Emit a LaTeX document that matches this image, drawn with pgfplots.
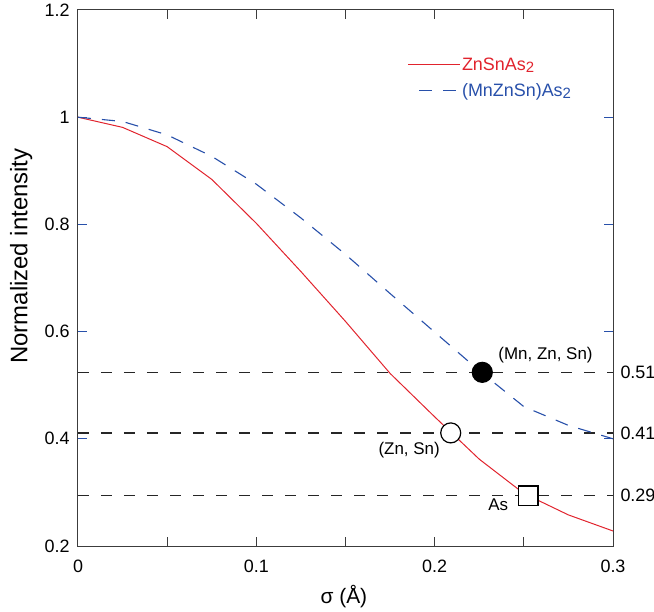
\documentclass[border=0pt]{standalone}
\usepackage{fontspec}
\setmainfont{Liberation Sans}
\usepackage{pgfplots}
\pgfplotsset{compat=1.18}
\definecolor{myred}{RGB}{225,35,45}
\definecolor{myblue}{RGB}{40,80,170}
\definecolor{axgray}{RGB}{60,60,60}

\pgfplotsset{
  redleg/.style={legend image code/.code={\draw[myred, line width=1bp] (0bp,0bp) -- (52bp,0bp);}},
  blueleg/.style={legend image code/.code={\draw[myblue, line width=1.1bp, dash pattern=on 13bp off 11bp] (11bp,0bp) -- (48bp,0bp);}},
}

\pgfplotstableread{
x     y
0     1.000
0.025 0.981
0.05  0.945
0.075 0.884
0.1   0.802
0.125 0.712
0.15  0.619
0.175 0.522
0.2   0.441
0.225 0.362
0.25  0.298
0.275 0.258
0.3   0.228
}\redtab

\pgfplotstableread{
x     y
0     1.000
0.025 0.992
0.05  0.967
0.075 0.927
0.1   0.875
0.125 0.812
0.15  0.744
0.175 0.671
0.2   0.599
0.225 0.527
0.25  0.460
0.275 0.425
0.3   0.400
}\bluetab

\begin{document}
\begin{tikzpicture}
\begin{axis}[
  name=ax, clip=false,
  scale only axis, width=535bp, height=536bp,
  xmin=0, xmax=0.3, ymin=0.2, ymax=1.2,
  xtick={0,0.1,0.2,0.3}, minor xtick={0.05,0.15,0.25},
  ytick={0.2,0.4,0.6,0.8,1.0,1.2},
  tick align=inside, major tick length=9bp, minor tick length=9bp,
  axis line style={axgray, line width=1bp},
  x tick style={axgray, line width=1bp},
  y tick style={myblue, line width=1bp},
  /pgf/number format/assume math mode=true,
  ticklabel style={font=\fontsize{18}{20}\selectfont},
  yticklabel style={xshift=-5bp},
  xticklabel style={yshift=-10bp},
  xlabel={σ (Å)},
  ylabel={Normalized intensity},
  xlabel style={font=\fontsize{21}{24}\selectfont, at={(rel axis cs:0.497,-0.0935)}, anchor=center},
  ylabel style={font=\fontsize{24}{27}\selectfont, at={(rel axis cs:-0.106,0.541)}, anchor=center},
  legend style={draw=none, fill=none, font=\fontsize{18}{20}\selectfont,
    at={(rel axis cs:0.61,0.918)}, anchor=north west, row sep=9bp,
    nodes={inner sep=1.5bp}},
  legend cell align=left,
]
% reference lines
\addplot[forget plot, black!85, line width=1.4bp, dash pattern=on 11bp off 12bp] coordinates {(0,0.524) (0.3,0.524)};
\addplot[forget plot, black!85, line width=1.4bp, dash pattern=on 11bp off 12bp] coordinates {(0,0.411) (0.3,0.411)};
\addplot[forget plot, black!85, line width=1.4bp, dash pattern=on 11bp off 12bp] coordinates {(0,0.294) (0.3,0.294)};
% curves
\addplot[forget plot, myred, line width=1bp] table[x=x,y=y] {\redtab};
\addplot[forget plot, myblue, line width=1.1bp, dash pattern=on 13bp off 11bp] table[x=x,y=y] {\bluetab};
% markers
\addplot[forget plot, only marks, mark=*, mark size=10bp, mark options={fill=black, draw=black, line width=1.2bp}] coordinates {(0.2267,0.524)};
\addplot[forget plot, only marks, mark=*, mark size=10bp, mark options={fill=white, draw=black, line width=1.2bp}] coordinates {(0.209,0.411)};
\addplot[forget plot, only marks, mark=square*, mark size=9.7bp, mark options={fill=white, draw=black, line width=1.2bp}] coordinates {(0.2525,0.294)};
% annotations
\node[anchor=west, font=\fontsize{17}{20}\selectfont] at (axis cs:0.2338,0.557) {(Mn, Zn, Sn)};
\node[anchor=east, font=\fontsize{17}{20}\selectfont] at (axis cs:0.2048,0.379) {(Zn, Sn)};
\node[anchor=east, font=\fontsize{17}{20}\selectfont] at (axis cs:0.2432,0.277) {As};
\node[anchor=west, xshift=4bp, font=\fontsize{18}{20}\selectfont] at (axis cs:0.3,0.524) {0.51};
\node[anchor=west, xshift=4bp, font=\fontsize{18}{20}\selectfont] at (axis cs:0.3,0.411) {0.41};
\node[anchor=west, xshift=4bp, font=\fontsize{18}{20}\selectfont] at (axis cs:0.3,0.294) {0.29};
% legend
\addlegendimage{redleg}
\addlegendentry{\textcolor{myred}{ZnSnAs\raisebox{-2bp}{\fontsize{15}{15}\selectfont 2}}}
\addlegendimage{blueleg}
\addlegendentry{\textcolor{myblue}{(MnZnSn)As\raisebox{-2bp}{\fontsize{15}{15}\selectfont 2}}}
\end{axis}
\pgfresetboundingbox
\path ([shift={(-78bp,-66bp)}]ax.south west) rectangle ([shift={(41bp,10bp)}]ax.north east);
\end{tikzpicture}
\end{document}
